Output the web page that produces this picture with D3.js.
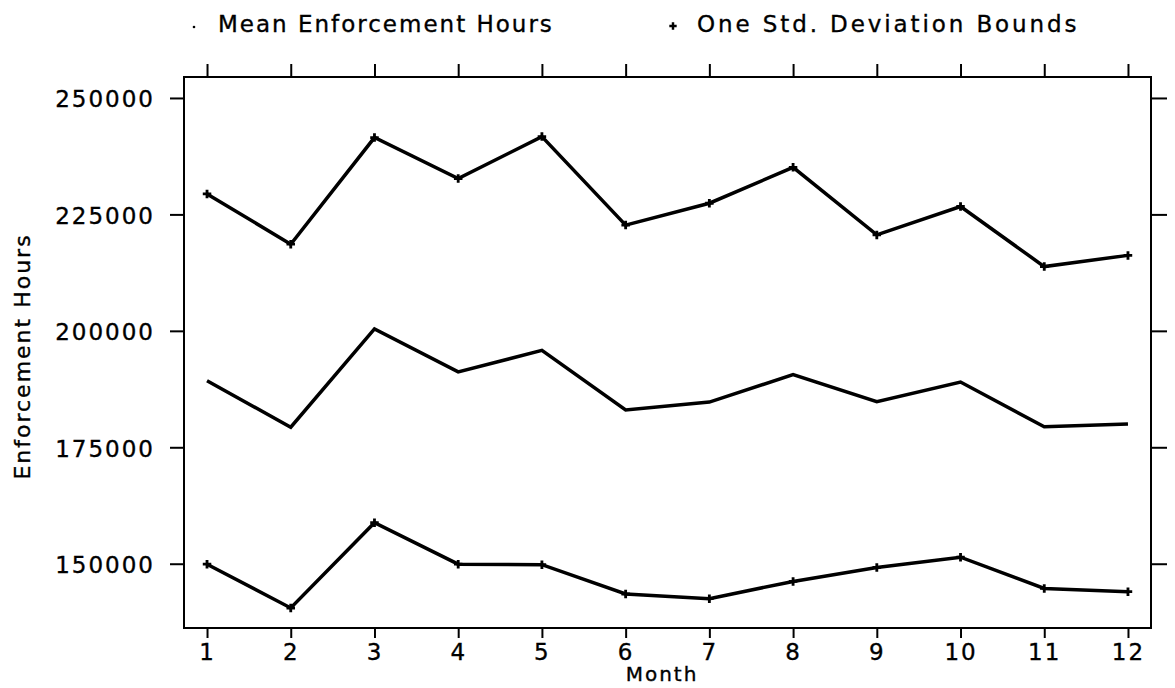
<!DOCTYPE html>
<html>
<head>
<meta charset="utf-8">
<script src="https://cdn.jsdelivr.net/npm/d3@7"></script>
<style>
    body { margin: 0; background: #fff; }
    svg { display: block; }
    text { font-family: "DejaVu Sans", sans-serif; fill: #000; stroke: #000; stroke-width: 0.35px; letter-spacing: 2px; }
</style>
</head>
<body>
<svg id="chart" width="1175" height="688"></svg>
<script>
var months = [1, 2, 3, 4, 5, 6, 7, 8, 9, 10, 11, 12];
var upperBound = [229400, 218600, 241500, 232700, 241700, 222700, 227400, 235100, 220600, 226700, 213800, 216200];
var meanHours = [189300, 179300, 200400, 191200, 195800, 183000, 184700, 190600, 184800, 189000, 179400, 180000];
var lowerBound = [149900, 140500, 158800, 149900, 149800, 143500, 142500, 146200, 149200, 151400, 144700, 144000];
var yTicks = [150000, 175000, 200000, 225000, 250000];
var legendLabels = ["Mean Enforcement Hours", "One Std. Deviation Bounds"];

var svg = d3.select("#chart");
var plotLeft = 184, plotRight = 1151, plotTop = 77, plotBottom = 628;

// month 1 and 12 sit a little inside the frame
var x = d3.scaleLinear().domain([0.725, 12.275]).range([plotLeft, plotRight]);
var y = d3.scaleLinear().domain([136200, 254500]).range([plotBottom, plotTop]);

// frame
svg.append("rect")
    .attr("x", plotLeft).attr("y", plotTop)
    .attr("width", plotRight - plotLeft).attr("height", plotBottom - plotTop)
    .attr("fill", "none").attr("stroke", "#000").attr("stroke-width", 2);

// axes
var yLeft = svg.append("g").attr("transform", "translate(" + plotLeft + ",0)")
    .call(d3.axisLeft(y).tickValues(yTicks).tickSize(14).tickPadding(15).tickFormat(d3.format("d")));
var yRight = svg.append("g").attr("transform", "translate(" + plotRight + ",0)")
    .call(d3.axisRight(y).tickValues(yTicks).tickSize(16).tickFormat(""));
var xTop = svg.append("g").attr("transform", "translate(0," + plotTop + ")")
    .call(d3.axisTop(x).tickValues(months).tickSize(13).tickFormat(""));
var xBottom = svg.append("g").attr("transform", "translate(0," + plotBottom + ")")
    .call(d3.axisBottom(x).tickValues(months).tickSize(10).tickPadding(6).tickFormat(d3.format("d")));

[yLeft, yRight, xTop, xBottom].forEach(function (g) {
    g.select(".domain").remove();
    g.selectAll(".tick line").attr("stroke", "#000").attr("stroke-width", 2);
    g.selectAll(".tick text").attr("font-size", 23).attr("fill", "#000");
});
yLeft.selectAll(".tick text").attr("dy", "0.38em");

// series
var line = d3.line()
    .x(function (d, i) { return x(months[i]); })
    .y(function (d) { return y(d); });

[upperBound, meanHours, lowerBound].forEach(function (s) {
    svg.append("path")
        .datum(s)
        .attr("d", line)
        .attr("fill", "none")
        .attr("stroke", "#000")
        .attr("stroke-width", 3.5)
        .attr("stroke-linejoin", "miter");
});

// plus markers on the bounds
var plus = d3.symbol().type(d3.symbolCross).size(40);
[upperBound, lowerBound].forEach(function (s) {
    svg.append("g").selectAll("path")
        .data(s)
        .enter().append("path")
        .attr("d", plus)
        .attr("transform", function (d, i) { return "translate(" + x(months[i]) + "," + y(d) + ")"; })
        .attr("fill", "#000");
});

// legend
var legend = svg.append("g");
legend.append("circle").attr("cx", 194).attr("cy", 27).attr("r", 1.3).attr("fill", "#000");
legend.append("text").attr("x", 218).attr("y", 32).attr("font-size", 23).text(legendLabels[0]);
legend.append("path").attr("d", d3.symbol().type(d3.symbolCross).size(30))
    .attr("transform", "translate(673,26)").attr("fill", "#000");
legend.append("text").attr("x", 697).attr("y", 32).attr("font-size", 23)
    .style("letter-spacing", "2.9px").text(legendLabels[1]);

// axis titles
svg.append("text")
    .attr("transform", "translate(30," + ((plotTop + plotBottom) / 2 + 4) + ") rotate(-90)")
    .attr("text-anchor", "middle")
    .attr("font-size", 22)
    .text("Enforcement Hours");
svg.append("text")
    .attr("x", 662).attr("y", 681)
    .attr("text-anchor", "middle")
    .attr("font-size", 20)
    .text("Month");
</script>
</body>
</html>
